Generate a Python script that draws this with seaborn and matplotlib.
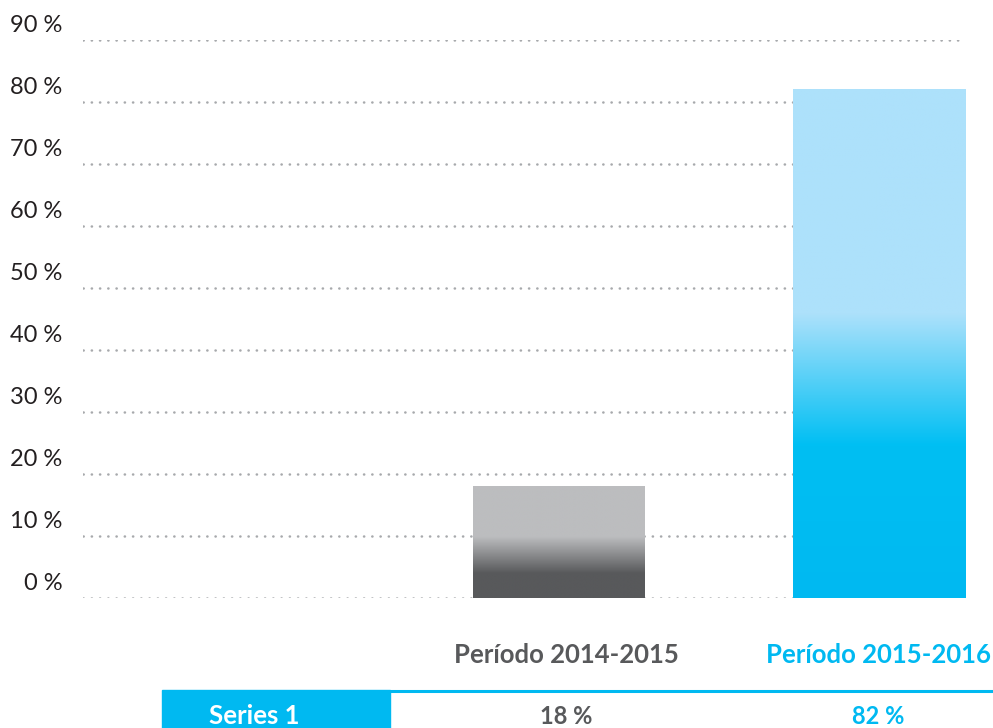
# %%
import matplotlib.pyplot as plt
import matplotlib.transforms as mtransforms
import numpy as np
import pandas as pd
import seaborn as sns
from matplotlib.colors import LinearSegmentedColormap

# %%
# Datos del grafico
periodos = ["Período 2014-2015", "Período 2015-2016"]
valores = [18, 82]
serie = "Series 1"
yticks = [0, 10, 20, 30, 40, 50, 60, 70, 80, 90]

azul = "#00B9F1"
gris_texto = "#58595B"

# colores de los degradados (abajo -> arriba)
degradado_gris = [(0.0, "#58595B"), (0.22, "#58595B"), (0.55, "#BCBDBF"), (1.0, "#BCBDBF")]
degradado_azul = [(0.0, "#00B9F1"), (0.30, "#00BFF3"), (0.56, "#ADE1FB"), (1.0, "#ADE1FB")]

df = pd.DataFrame({"periodo": periodos, "valor": valores})

# %%
sns.set_theme(style="white")
plt.rcParams["font.family"] = ["Lato", "DejaVu Sans"]
plt.rcParams["lines.dash_capstyle"] = "round"

W, H = 993, 728
fig = plt.figure(figsize=(W / 100, H / 100), dpi=100)
ax = fig.add_axes([83 / W, (H - 598) / H, (965 - 83) / W, (598 - 40) / H])

sns.barplot(data=df, x="periodo", y="valor", ax=ax, width=0.5375,
            color="white", saturation=1, zorder=2)

# degradado dentro de cada barra
for patch, stops in zip(ax.patches, [degradado_gris, degradado_azul]):
    x0, y0 = patch.get_x(), patch.get_y()
    w, h = patch.get_width(), patch.get_height()
    cmap = LinearSegmentedColormap.from_list("g", stops)
    grad = np.linspace(0, 1, 256).reshape(-1, 1)
    ax.imshow(grad, cmap=cmap, origin="lower", aspect="auto",
              extent=[x0, x0 + w, y0, y0 + h], zorder=2, interpolation="bilinear")
    patch.set_visible(False)

ax.set_xlim(-1.4875, 1.26875)
ax.set_ylim(0, 90)
ax.set_yticks(yticks)
ax.set_yticklabels([f"{v} %" for v in yticks], fontsize=17, fontweight="normal",
                   color="#231F20")
ax.set_xticks([])
ax.set_xlabel("")
ax.set_ylabel("")
ax.tick_params(axis="y", length=0, pad=15)
offset = mtransforms.ScaledTranslation(0, 0.16, fig.dpi_scale_trans)
for lab in ax.get_yticklabels():
    lab.set_transform(lab.get_transform() + offset)

ax.yaxis.grid(True, color="#A7A9AC", linestyle=(0, (0.1, 3.2)), linewidth=1.8)
ax.set_axisbelow(True)
sns.despine(ax=ax, left=True, bottom=True)

# %%
# encabezados y tabla inferior
col_x = [566, 878]
col_color = [gris_texto, azul]
for x, txt, c, v in zip(col_x, periodos, col_color, valores):
    fig.text(x / W, 1 - 655 / H, txt, ha="center", va="center",
             fontsize=18.5, fontweight="bold", color=c)
    fig.text(x / W, 1 - 716 / H, f"{v} %", ha="center", va="center",
             fontsize=17, fontweight="bold", color=c)

fig.patches.append(plt.Rectangle((162 / W, 0), (390 - 162) / W, (H - 690) / H,
                                 transform=fig.transFigure, color=azul, zorder=0))
fig.lines.append(plt.Line2D([390 / W, 1], [1 - 691 / H] * 2, transform=fig.transFigure,
                            color=azul, linewidth=2.2))
fig.text(254 / W, 1 - 716 / H, serie, ha="center", va="center",
         fontsize=18.5, fontweight="bold", color="white")

plt.savefig("out.png", dpi=100)
